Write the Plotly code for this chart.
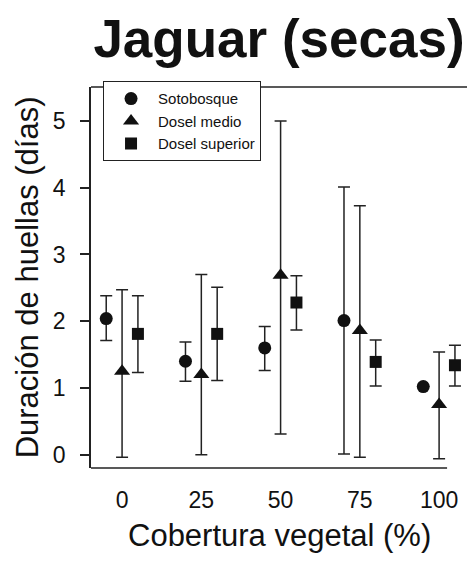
import plotly.graph_objects as go

# Vegetation cover classes (%) and tick labels
cobertura = [0, 25, 50, 75, 100]
tick_text = ["0", "25", "50", "75", "100"]

# Mean track duration (days) with lower/upper limits per canopy stratum
soto_media = [2.04, 1.40, 1.60, 2.01, 1.02]
soto_sup = [2.38, 1.69, 1.92, 4.01, None]
soto_inf = [1.71, 1.10, 1.26, 0.01, None]

medio_media = [1.25, 1.20, 2.69, 1.86, 0.75]
medio_sup = [2.47, 2.70, 5.00, 3.73, 1.54]
medio_inf = [-0.04, 0.00, 0.31, -0.04, -0.06]

superior_media = [1.81, 1.81, 2.28, 1.39, 1.34]
superior_sup = [2.38, 2.51, 2.68, 1.72, 1.64]
superior_inf = [1.23, 1.11, 1.87, 1.03, 1.03]

FONT = "Liberation Sans, Arial, sans-serif"
INK = "#111111"


def errs(media, sup, inf):
    plus = [None if s is None else s - m for m, s in zip(media, sup)]
    minus = [None if i is None else m - i for m, i in zip(media, inf)]
    return plus, minus


series = [
    ("Sotobosque", soto_media, soto_sup, soto_inf, -5, "circle", 13),
    ("Dosel medio", medio_media, medio_sup, medio_inf, 0, "triangle-up", 14),
    ("Dosel superior", superior_media, superior_sup, superior_inf, 5, "square", 12),
]

fig = go.Figure()
for name, media, sup, inf, dx, sym, size in series:
    plus, minus = errs(media, sup, inf)
    fig.add_trace(go.Scatter(
        x=[c + dx for c in cobertura],
        y=media,
        mode="markers",
        name=name,
        marker=dict(symbol=sym, size=size, color=INK, line=dict(width=0)),
        error_y=dict(type="data", array=plus, arrayminus=minus, symmetric=False,
                     color="#222222", thickness=1.5, width=6),
    ))

fig.update_layout(
    width=467, height=564,
    margin=dict(l=91, r=0, t=87, b=96),
    paper_bgcolor="white", plot_bgcolor="white",
    font=dict(family=FONT, color=INK),
    title=dict(text="<b>Jaguar (secas)</b>", x=279 / 467, xanchor="center",
               y=1 - 38 / 564, yanchor="middle", yref="container",
               font=dict(size=53, family=FONT, color=INK)),
    showlegend=True,
    legend=dict(x=0.032, y=1.015, xanchor="left", yanchor="top",
                bgcolor="white", bordercolor="#222222", borderwidth=1,
                font=dict(size=15, family=FONT, color=INK),
                itemwidth=44, tracegroupgap=0),
    xaxis=dict(range=[-9.8, 108.8], tickvals=cobertura, ticktext=tick_text,
               showgrid=False, zeroline=False, showline=False,
               ticks="", ticklabelstandoff=16,
               tickfont=dict(size=23, family=FONT, color=INK)),
    yaxis=dict(range=[-0.2, 5.51], tickvals=[0, 1, 2, 3, 4, 5],
               showgrid=False, zeroline=False, showline=True,
               linecolor="#222222", linewidth=1.5,
               ticks="outside", ticklen=9, tickwidth=1.5, tickcolor="#222222",
               ticklabelstandoff=10,
               tickfont=dict(size=23, family=FONT, color=INK)),
    annotations=[
        dict(text="Cobertura vegetal (%)", xref="paper", yref="paper",
             x=0.5, y=-0.176, xanchor="center", yanchor="middle",
             showarrow=False, font=dict(size=31, family=FONT, color=INK)),
        dict(text="Duración de huellas (días)", xref="paper", yref="paper",
             x=-0.168, y=0.5, xanchor="center", yanchor="middle", textangle=-90,
             showarrow=False, font=dict(size=31, family=FONT, color=INK)),
    ],
    shapes=[
        # frame top line and bottom axis line
        dict(type="line", xref="paper", yref="paper", x0=0, x1=1, y0=1, y1=1,
             line=dict(color="#222222", width=1.5)),
        dict(type="line", xref="paper", yref="paper", x0=0, x1=0.947, y0=0, y1=0,
             line=dict(color="#222222", width=1.5)),
    ],
)

fig.write_html("out.html")
